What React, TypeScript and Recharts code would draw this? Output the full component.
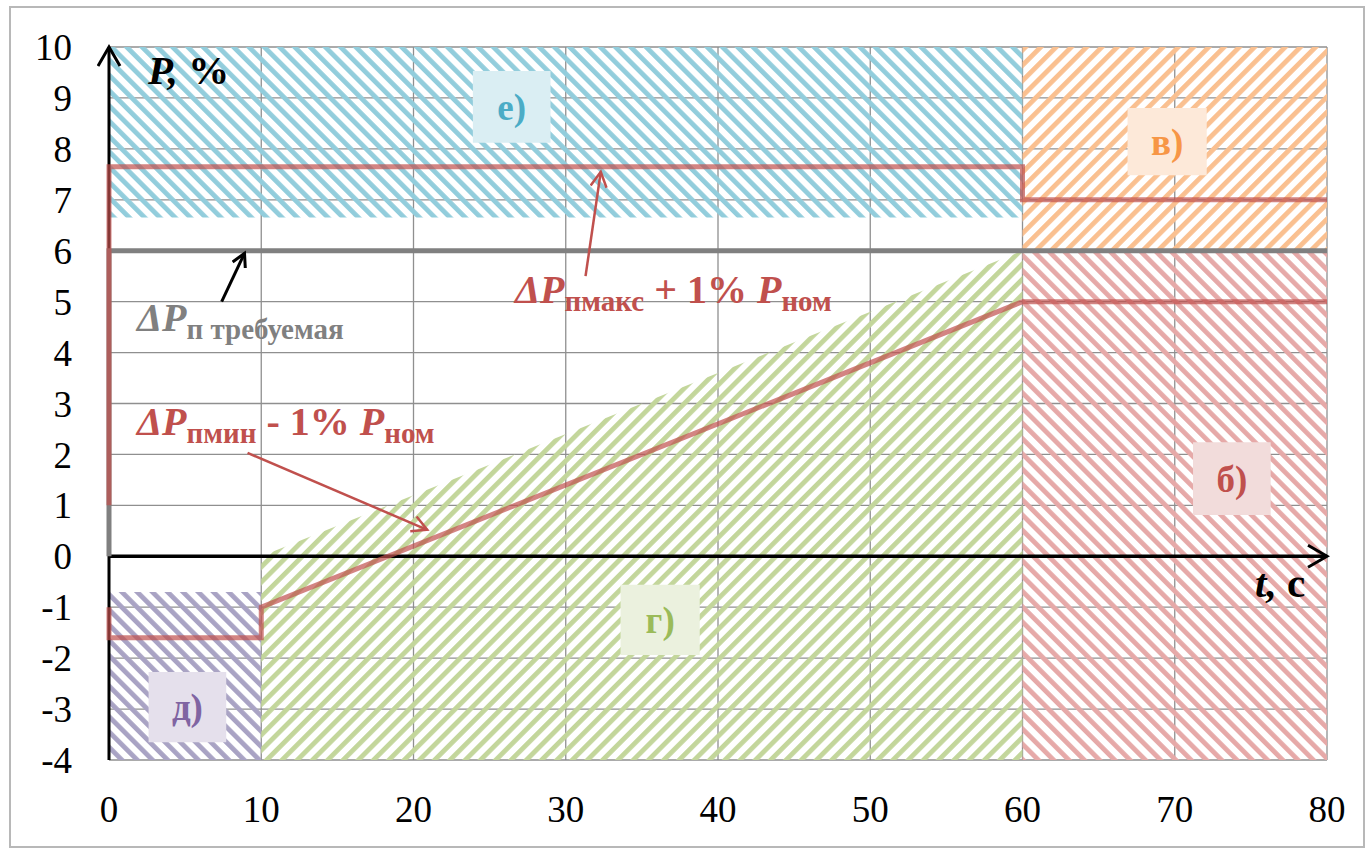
import React from 'react';
import {
  ComposedChart,
  Line,
  Area,
  XAxis,
  YAxis,
  CartesianGrid,
  ReferenceArea,
} from 'recharts';

const SERIF = "'Liberation Serif', 'Times New Roman', serif";

// axis ticks
const xTicks = [0, 10, 20, 30, 40, 50, 60, 70, 80];
const yTicks = [-4, -3, -2, -1, 0, 1, 2, 3, 4, 5, 6, 7, 8, 9, 10];

// ΔPпмакс + 1% Pном
const upperLimit = [
  { t: 0, p: 1 },
  { t: 0, p: 7.65 },
  { t: 60, p: 7.65 },
  { t: 60, p: 7 },
  { t: 80, p: 7 },
];

// ΔPпмин - 1% Pном
const lowerLimit = [
  { t: 0, p: -1 },
  { t: 0, p: -1.6 },
  { t: 10, p: -1.6 },
  { t: 10, p: -1 },
  { t: 60, p: 5 },
  { t: 80, p: 5 },
];

// ΔPп требуемая
const required = [
  { t: 0, p: 0 },
  { t: 0, p: 6 },
  { t: 80, p: 6 },
];

// upper edge of zone г)
const zoneGTop = [
  { t: 10, p: 0 },
  { t: 60, p: 6 },
];

// axes
const yAxisLine = [
  { t: 0, p: -4 },
  { t: 0, p: 10 },
];
const xAxisLine = [
  { t: 0, p: 0 },
  { t: 80, p: 0 },
];

// pointer arrows
const arrowRequired = [
  { t: 7.4, p: 5.0 },
  { t: 8.9, p: 5.95 },
];
const arrowUpper = [
  { t: 31.3, p: 5.5 },
  { t: 32.3, p: 7.55 },
];
const arrowLower = [
  { t: 9.1, p: 2.03 },
  { t: 20.9, p: 0.52 },
];

// hatched zones
const zones = [
  { key: 'e', t1: 0, t2: 60, p1: 6.65, p2: 10 },
  { key: 'v', t1: 60, t2: 80, p1: 6, p2: 10 },
  { key: 'b', t1: 60, t2: 80, p1: -4, p2: 6 },
  { key: 'd', t1: 0, t2: 10, p1: -4, p2: -0.7 },
];

// zone labels
const zoneLabels = [
  { key: 'e', text: 'е)', t1: 23.9, t2: 29.0, p1: 8.12, p2: 9.53 },
  { key: 'v', text: 'в)', t1: 66.9, t2: 72.1, p1: 7.48, p2: 8.8 },
  { key: 'b', text: 'б)', t1: 71.2, t2: 76.3, p1: 0.81, p2: 2.24 },
  { key: 'g', text: 'г)', t1: 33.6, t2: 38.8, p1: -1.94, p2: -0.56 },
  { key: 'd', text: 'д)', t1: 2.6, t2: 7.7, p1: -3.65, p2: -2.27 },
];

const zoneStyle: Record<string, { stripe: string; box: string; text: string; dir: number }> = {
  e: { stripe: '#92cddc', box: '#daeef3', text: '#4bacc6', dir: -45 },
  v: { stripe: '#fac090', box: '#fde9d9', text: '#f79646', dir: 45 },
  b: { stripe: '#e6a9a8', box: '#f2dcdb', text: '#c0504d', dir: -45 },
  g: { stripe: '#c3d69b', box: '#ebf1de', text: '#9bbb59', dir: 45 },
  d: { stripe: '#a9a3c4', box: '#e5e0ec', text: '#8064a2', dir: -45 },
};

const RED = '#c0504d';
const GRAY = '#808080';

// HTML text placed by its baseline (Liberation Serif, line-height 1)
function Note({
  x,
  base,
  size,
  color,
  children,
}: {
  x: number;
  base: number;
  size: number;
  color: string;
  children: React.ReactNode;
}) {
  return (
    <div
      style={{
        position: 'absolute',
        left: x,
        top: base - 0.8375 * size,
        fontSize: size,
        lineHeight: 1,
        color,
        fontFamily: SERIF,
        fontWeight: 'bold',
        whiteSpace: 'pre',
      }}
    >
      {children}
    </div>
  );
}

const sub = (text: string) => (
  <span style={{ fontSize: 29, verticalAlign: '-8px' }}>{text}</span>
);
const it = (text: string) => <span style={{ fontStyle: 'italic' }}>{text}</span>;

export default function App() {
  const tickStyle = { fill: '#000', fontSize: 37, fontFamily: SERIF, style: { fontFamily: SERIF } };
  return (
    <div
      style={{
        position: 'absolute',
        left: 0,
        top: 0,
        width: 1365,
        height: 849,
        background: '#fff',
        fontFamily: SERIF,
      }}
    >
      <div
        style={{
          position: 'absolute',
          left: 9,
          top: 6,
          width: 1352,
          height: 838,
          border: '2px solid #b8b8b8',
        }}
      />
      <div style={{ position: 'absolute', left: 0, top: 0 }}>
        <ComposedChart
          width={1365}
          height={849}
          margin={{ top: 47, right: 38, bottom: 29, left: 0 }}
        >
          <defs>
            {Object.entries(zoneStyle).map(([k, s]) => (
              <pattern
                key={k}
                id={`hatch-${k}`}
                patternUnits="userSpaceOnUse"
                width={10.8}
                height={10.8}
                patternTransform={`rotate(${s.dir})`}
              >
                <rect x={0} y={0} width={4.8} height={10.8} fill={s.stripe} />
              </pattern>
            ))}
            <marker
              id="arrow-black"
              markerUnits="userSpaceOnUse"
              markerWidth={30}
              markerHeight={30}
              refX={20}
              refY={12}
              orient="auto"
            >
              <path d="M1,1 L20,12 L1,23" fill="none" stroke="#000" strokeWidth={3} />
            </marker>
            <marker
              id="arrow-small"
              markerUnits="userSpaceOnUse"
              markerWidth={20}
              markerHeight={20}
              refX={14}
              refY={8}
              orient="auto"
            >
              <path d="M1,1 L14,8 L1,15" fill="none" stroke="#000" strokeWidth={3} />
            </marker>
            <marker
              id="arrow-red"
              markerUnits="userSpaceOnUse"
              markerWidth={24}
              markerHeight={24}
              refX={16}
              refY={9}
              orient="auto"
            >
              <path d="M1,1 L16,9 L1,17" fill="none" stroke={RED} strokeWidth={2.5} />
            </marker>
          </defs>

          <CartesianGrid stroke="#8f8f8f" strokeWidth={1.3} />
          <XAxis
            type="number"
            dataKey="t"
            domain={[0, 80]}
            ticks={xTicks}
            height={60}
            axisLine={false}
            tickLine={false}
            tickSize={0}
            tickMargin={36}
            tick={tickStyle}
          />
          <YAxis
            type="number"
            domain={[-4, 10]}
            ticks={yTicks}
            width={109}
            axisLine={false}
            tickLine={false}
            tickSize={0}
            tickMargin={37}
            tick={tickStyle}
          />

          {zones.map((z) => (
            <ReferenceArea
              key={z.key}
              x1={z.t1}
              x2={z.t2}
              y1={z.p1}
              y2={z.p2}
              fill={`url(#hatch-${z.key})`}
              fillOpacity={1}
              stroke="none"
            />
          ))}

          <Area
            data={zoneGTop}
            dataKey="p"
            type="linear"
            baseValue={-4}
            fill="url(#hatch-g)"
            fillOpacity={1}
            stroke="none"
            isAnimationActive={false}
          />

          {zoneLabels.map((z) => (
            <ReferenceArea
              key={`lbl-${z.key}`}
              x1={z.t1}
              x2={z.t2}
              y1={z.p1}
              y2={z.p2}
              fill={zoneStyle[z.key].box}
              fillOpacity={1}
              stroke="none"
              label={{
                value: z.text,
                position: 'center',
                fill: zoneStyle[z.key].text,
                fontSize: 37,
                fontWeight: 'bold',
                fontFamily: SERIF,
                style: { fontFamily: SERIF },
              }}
            />
          ))}

          <Line
            data={yAxisLine}
            dataKey="p"
            type="linear"
            stroke="#000"
            strokeWidth={3}
            dot={false}
            markerEnd="url(#arrow-black)"
            isAnimationActive={false}
          />
          <Line
            data={xAxisLine}
            dataKey="p"
            type="linear"
            stroke="#000"
            strokeWidth={3.5}
            dot={false}
            markerEnd="url(#arrow-black)"
            isAnimationActive={false}
          />
          <Line
            data={required}
            dataKey="p"
            type="linear"
            stroke={GRAY}
            strokeWidth={5}
            dot={false}
            isAnimationActive={false}
          />
          <Line
            data={upperLimit}
            dataKey="p"
            type="linear"
            stroke={RED}
            strokeOpacity={0.7}
            strokeWidth={5}
            dot={false}
            isAnimationActive={false}
          />
          <Line
            data={lowerLimit}
            dataKey="p"
            type="linear"
            stroke={RED}
            strokeOpacity={0.7}
            strokeWidth={5}
            dot={false}
            isAnimationActive={false}
          />
          <Line
            data={arrowRequired}
            dataKey="p"
            type="linear"
            stroke="#000"
            strokeWidth={3}
            dot={false}
            markerEnd="url(#arrow-small)"
            isAnimationActive={false}
          />
          <Line
            data={arrowUpper}
            dataKey="p"
            type="linear"
            stroke={RED}
            strokeWidth={2.5}
            dot={false}
            markerEnd="url(#arrow-red)"
            isAnimationActive={false}
          />
          <Line
            data={arrowLower}
            dataKey="p"
            type="linear"
            stroke={RED}
            strokeWidth={2.5}
            dot={false}
            markerEnd="url(#arrow-red)"
            isAnimationActive={false}
          />
        </ComposedChart>
      </div>

      {/* text annotations */}
      <Note x={148} base={84} size={41} color="#000">
        {it('P,')} %
      </Note>
      <Note x={1255} base={597} size={41} color="#000">
        {it('t,')} с
      </Note>
      <Note x={137} base={331} size={40} color={GRAY}>
        {it('ΔP')}
        {sub('п требуемая')}
      </Note>
      <Note x={515} base={303} size={40} color={RED}>
        {it('ΔP')}
        {sub('пмакс')}
        {' + 1% '}
        {it('P')}
        {sub('ном')}
      </Note>
      <Note x={137} base={435} size={40} color={RED}>
        {it('ΔP')}
        {sub('пмин')}
        {' - 1% '}
        {it('P')}
        {sub('ном')}
      </Note>
    </div>
  );
}
